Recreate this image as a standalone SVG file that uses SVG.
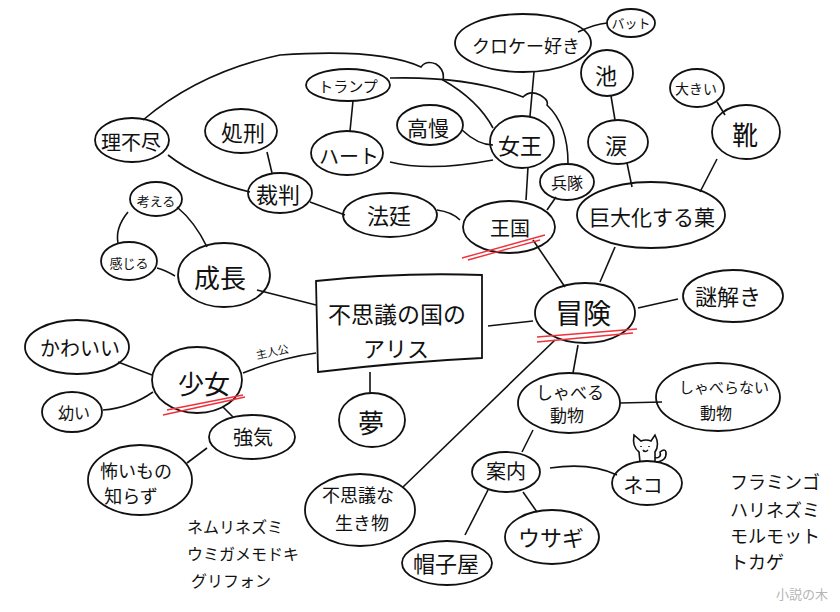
<svg xmlns="http://www.w3.org/2000/svg" width="840" height="612" viewBox="0 0 840 612">
<style>
.n{fill:none;stroke:#111;stroke-width:1.8}
.c{fill:none;stroke:#111;stroke-width:1.6}
.r{fill:none;stroke:#f0303a;stroke-width:1.4}
text{font-family:"Noto Sans CJK JP","Noto Sans",sans-serif;fill:#111;text-anchor:middle;dominant-baseline:central}
.l{text-anchor:start}
</style>
<rect width="840" height="612" fill="#fff"/>
<g id="connectors">
<path class="c" d="M257,290 L316,305"/>
<path class="c" d="M243,373 Q280,358 316,353"/>
<path class="c" d="M370,372 L370,393"/>
<path class="c" d="M488,326 L533,321"/>
<path class="c" d="M207,247 Q195,222 177,207"/>
<path class="c" d="M175,276 Q165,270 157,268"/>
<path class="c" d="M128,212 Q115,228 118,243"/>
<path class="c" d="M152,375 L118,362"/>
<path class="c" d="M153,392 Q130,408 103,410"/>
<path class="c" d="M223,407 L233,417"/>
<path class="c" d="M207,448 L187,463"/>
<path class="c" d="M565,287 L533,240"/>
<path class="c" d="M600,282 L615,247"/>
<path class="c" d="M638,308 L678,299"/>
<path class="c" d="M578,345 L573,373"/>
<path class="c" d="M555,340 L403,487"/>
<path class="c" d="M620,403 L662,402"/>
<path class="c" d="M533,430 L522,452"/>
<path class="c" d="M550,468 Q590,462 617,475"/>
<path class="c" d="M523,492 L537,512"/>
<path class="c" d="M488,490 L465,535"/>
<path class="c" d="M437,210 Q452,212 460,220"/>
<path class="c" d="M528,167 L526,200"/>
<path class="c" d="M547,210 L556,197"/>
<path class="c" d="M310,202 L345,215"/>
<path class="c" d="M267,152 L272,173"/>
<path class="c" d="M168,155 Q200,180 250,192"/>
<path class="c" d="M462,130 Q478,145 493,145"/>
<path class="c" d="M390,162 Q430,172 493,160"/>
<path class="c" d="M534,72 L530,116"/>
<path class="c" d="M578,32 Q595,24 607,23"/>
<path class="c" d="M611,96 L615,120"/>
<path class="c" d="M627,163 L632,187"/>
<path class="c" d="M717,102 L725,115"/>
<path class="c" d="M717,159 L700,192"/>
<path class="c" d="M353,101 L350,131"/>
<path class="c" d="M143,120 Q200,72 280,55 Q380,48 421,67 Q426,60 436,64 Q445,70 443,80 Q478,100 493,128"/>
<path class="c" d="M390,78 Q470,76 523,97 Q530,90 540,95 Q549,100 547,105 Q568,125 568,163"/>
</g>
<g id="center"><path class="n" d="M316,281 Q400,272 482,275 L482,358 Q400,362 318,372 Z"/><text x="397" y="313" font-size="23">不思議の国の</text><text x="396" y="347" font-size="22">アリス</text></g>
<g id="seicho"><ellipse class="n" cx="224" cy="275" rx="46" ry="32"/><text x="220" y="276" font-size="26">成長</text></g>
<g id="kangaeru"><ellipse class="n" cx="156" cy="199" rx="26" ry="17"/><text x="156" y="200" font-size="13">考える</text></g>
<g id="kanjiru"><ellipse class="n" cx="129" cy="261" rx="28" ry="19"/><text x="129" y="262" font-size="13">感じる</text></g>
<g id="shojo"><ellipse class="n" cx="197" cy="380" rx="45" ry="33"/><text x="204" y="382" font-size="26">少女</text><path class="r" d="M167,410 L243,395 M163,415 L245,397"/></g>
<text x="272" y="351" font-size="11" transform="rotate(-12 272 351)">主人公</text>
<g id="kawaii"><ellipse class="n" cx="77" cy="347" rx="52" ry="27"/><text x="80" y="347" font-size="20">かわいい</text></g>
<g id="osanai"><ellipse class="n" cx="72" cy="412" rx="30" ry="20"/><text x="74" y="412" font-size="16">幼い</text></g>
<g id="tsuyoki"><ellipse class="n" cx="252" cy="437" rx="43" ry="22"/><text x="253" y="436" font-size="20">強気</text></g>
<g id="kowai"><ellipse class="n" cx="140" cy="480" rx="52" ry="35"/><text x="136" y="470" font-size="18">怖いもの</text><text x="131" y="495" font-size="18">知らず</text></g>
<g id="yume"><ellipse class="n" cx="372" cy="420" rx="33" ry="27"/><text x="371" y="421" font-size="26">夢</text></g>
<g id="fushigi"><ellipse class="n" cx="360" cy="510" rx="55" ry="36"/><text x="358" y="494" font-size="18">不思議な</text><text x="362" y="522" font-size="18">生き物</text></g>
<g id="boken"><ellipse class="n" cx="585" cy="313" rx="50" ry="30"/><text x="583" y="312" font-size="28">冒険</text><path class="r" d="M537,337 L637,329 M537,342 L633,333"/></g>
<g id="nazotoki"><ellipse class="n" cx="733" cy="296" rx="50" ry="26"/><text x="728" y="295" font-size="22">謎解き</text></g>
<g id="shaberu"><ellipse class="n" cx="569" cy="403" rx="51" ry="30"/><text x="570" y="391" font-size="17">しゃべる</text><text x="567" y="414" font-size="17">動物</text></g>
<g id="shaberanai"><ellipse class="n" cx="718" cy="397" rx="62" ry="34"/><text x="724" y="386" font-size="15">しゃべらない</text><text x="716" y="412" font-size="16">動物</text></g>
<g id="annai"><ellipse class="n" cx="506" cy="472" rx="34" ry="20"/><text x="506" y="470" font-size="20">案内</text></g>
<g id="neko"><ellipse class="n" cx="647" cy="483" rx="35" ry="22"/><text x="643" y="484" font-size="20">ネコ</text>
<path class="c" stroke-width="1.2" d="M640,462 L639,452 Q632,447 634,435 L641,441 Q646,439 651,441 L655,435 Q660,445 655,452 L655,462 M655,458 Q662,458 660,452 Q665,448 666,452 Q667,461 656,462"/>
<path class="c" stroke-width="1" d="M641,446 L641,447 M649,446 L649,447 M643,450 Q645,453 648,450"/></g>
<g id="usagi"><ellipse class="n" cx="552" cy="537" rx="47" ry="27"/><text x="551" y="536" font-size="22">ウサギ</text></g>
<g id="boshiya"><ellipse class="n" cx="447" cy="563" rx="45" ry="22"/><text x="446" y="562" font-size="22">帽子屋</text></g>
<g id="okoku"><ellipse class="n" cx="509" cy="227" rx="46" ry="26"/><text x="510" y="227" font-size="20">王国</text><path class="r" d="M462,258 L545,235 M468,260 L540,240"/></g>
<g id="heitai"><ellipse class="n" cx="567" cy="182" rx="27" ry="18"/><text x="567" y="182" font-size="16">兵隊</text></g>
<g id="joo"><ellipse class="n" cx="522" cy="142" rx="32" ry="26"/><text x="520" y="144" font-size="22">女王</text></g>
<g id="croquet"><ellipse class="n" cx="523" cy="43" rx="68" ry="29"/><text x="526" y="45" font-size="18">クロケー好き</text></g>
<g id="bat"><ellipse class="n" cx="631" cy="23" rx="24" ry="14"/><text x="631" y="22" font-size="13">バット</text></g>
<g id="koman"><ellipse class="n" cx="430" cy="125" rx="33" ry="20"/><text x="428" y="127" font-size="21">高慢</text></g>
<g id="trump"><ellipse class="n" cx="348" cy="85" rx="42" ry="16"/><text x="348" y="85" font-size="15">トランプ</text></g>
<g id="heart"><ellipse class="n" cx="347" cy="153" rx="36" ry="22"/><text x="349" y="155" font-size="20">ハート</text></g>
<g id="hotei"><ellipse class="n" cx="390" cy="215" rx="47" ry="22"/><text x="389" y="214" font-size="22">法廷</text></g>
<g id="saiban"><ellipse class="n" cx="280" cy="193" rx="32" ry="20"/><text x="278" y="193" font-size="22">裁判</text></g>
<g id="shokei"><ellipse class="n" cx="241" cy="131" rx="36" ry="22"/><text x="243" y="131" font-size="22">処刑</text></g>
<g id="rifujin"><ellipse class="n" cx="132" cy="140" rx="37" ry="22"/><text x="131" y="141" font-size="20">理不尽</text></g>
<g id="ike"><ellipse class="n" cx="607" cy="73" rx="26" ry="23"/><text x="606" y="74" font-size="22">池</text></g>
<g id="namida"><ellipse class="n" cx="618" cy="142" rx="30" ry="22"/><text x="616" y="144" font-size="22">涙</text></g>
<g id="kyodaika"><ellipse class="n" cx="651" cy="215" rx="74" ry="33"/><text x="652" y="216" font-size="21">巨大化する菓</text></g>
<g id="ookii"><ellipse class="n" cx="697" cy="88" rx="27" ry="19"/><text x="696" y="88" font-size="14">大きい</text></g>
<g id="kutsu"><ellipse class="n" cx="746" cy="132" rx="34" ry="27"/><text x="745" y="133" font-size="26">靴</text></g>
<g id="list-right"><text class="l" x="730" y="481" font-size="18">フラミンゴ</text><text class="l" x="730" y="509" font-size="18">ハリネズミ</text><text class="l" x="730" y="535" font-size="18">モルモット</text><text class="l" x="730" y="561" font-size="18">トカゲ</text></g>
<g id="list-bottom"><text class="l" x="187" y="526" font-size="16">ネムリネズミ</text><text class="l" x="187" y="553" font-size="16">ウミガメモドキ</text><text class="l" x="191" y="580" font-size="16">グリフォン</text></g>
<text x="802" y="593" font-size="13" style="fill:#b5b5b5">小説の木</text>
</svg>
